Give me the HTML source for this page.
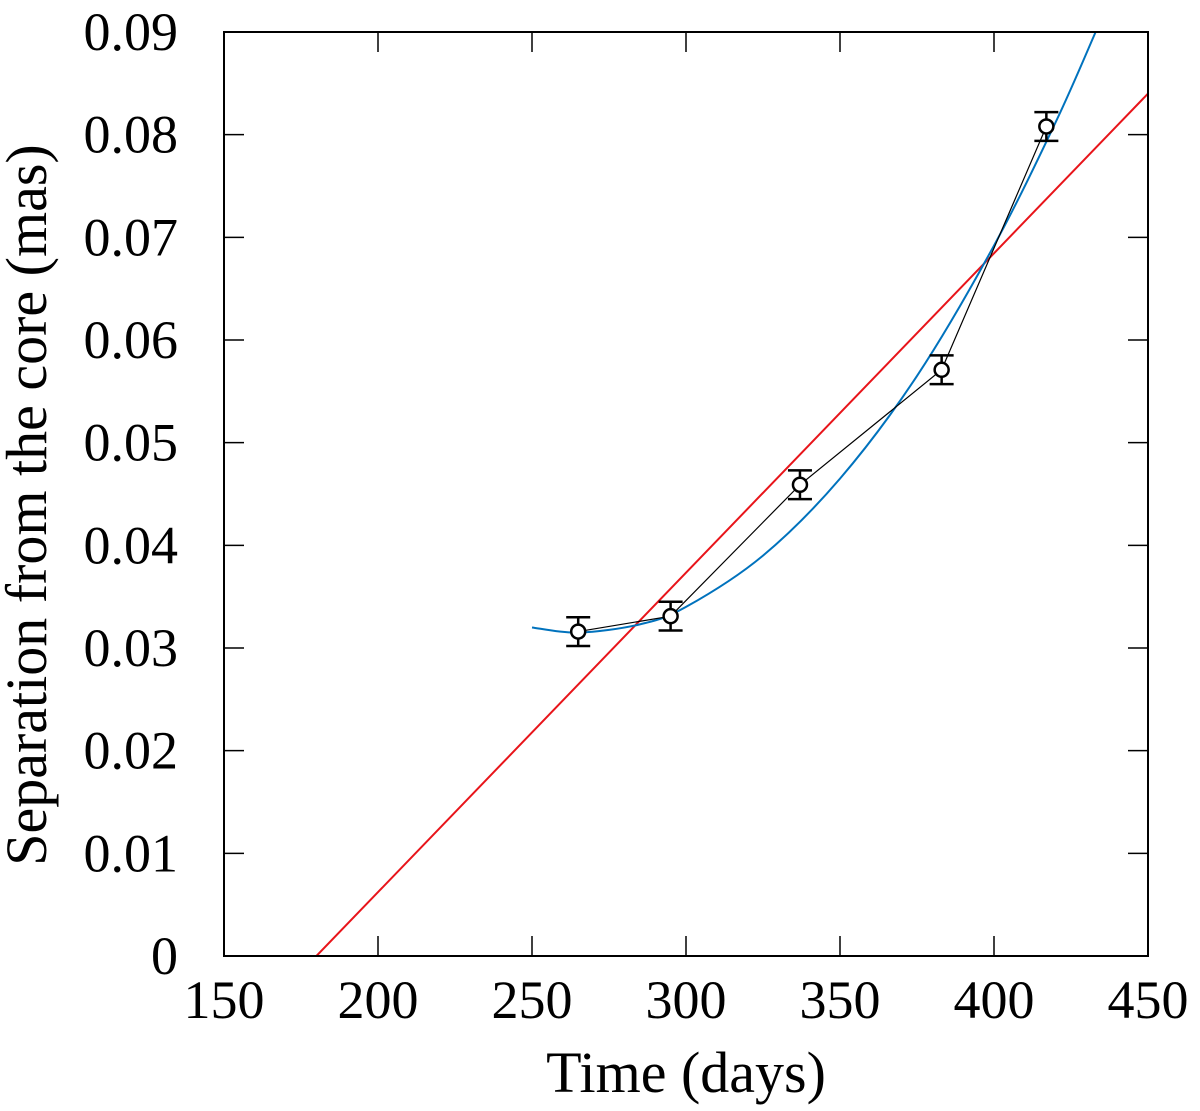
<!DOCTYPE html>
<html><head><meta charset="utf-8"><style>
body{margin:0;background:#fff}
svg text{font-family:"Liberation Serif","DejaVu Serif",serif;fill:#000}
</style></head><body>
<svg id="chart" width="1200" height="1106" viewBox="0 0 1200 1106" xmlns="http://www.w3.org/2000/svg">
<g id="g"></g>
</svg>
<script>
const xTicks=[150,200,250,300,350,400,450];
const yTicks=[0,0.01,0.02,0.03,0.04,0.05,0.06,0.07,0.08,0.09];
const yTickLabels=["0","0.01","0.02","0.03","0.04","0.05","0.06","0.07","0.08","0.09"];
const obsDays=[265,295,337,383,417];
const obsSep=[0.0316,0.0331,0.0459,0.0571,0.0808];
const obsErr=[0.0014,0.0014,0.0014,0.0014,0.0014];
const linDays=[180,450];
const linSep=[0,0.084];
const fitDays=[250,265,285,300,325,350,375,400,420,433];
const fitSep=[0.032,0.0315,0.0323,0.034,0.039,0.0465,0.0565,0.0692,0.0812,0.09];

const L=224,R=1148,T=32,B=956;
const X=v=>L+(v-150)/300*(R-L);
const Y=v=>B-v/0.09*(B-T);
const NS="http://www.w3.org/2000/svg";
const g=document.getElementById('g');
function mk(tag,attrs,name){const e=document.createElementNS(NS,tag);for(const k in attrs)e.setAttribute(k,attrs[k]);


g.appendChild(e);return e;}
const defs=document.createElementNS(NS,'defs');defs.innerHTML=`<clipPath id="cp"><rect x="${L}" y="${T}" width="${R-L}" height="${B-T}"/></clipPath>`;g.appendChild(defs);
xTicks.forEach((v,i)=>{const x=X(v);
mk('line',{x1:x,x2:x,y1:B,y2:B-20,stroke:'#000','stroke-width':1.5},'x-tick');
mk('line',{x1:x,x2:x,y1:T,y2:T+20,stroke:'#000','stroke-width':1.5},'x-tick-top');
const t=mk('text',{x:x,y:1018,'font-size':54,'text-anchor':'middle'},'x-tick-label');t.textContent=v;});
yTicks.forEach((v,i)=>{const y=Y(v);
mk('line',{x1:L,x2:L+20,y1:y,y2:y,stroke:'#000','stroke-width':1.5},'y-tick');
mk('line',{x1:R,x2:R-20,y1:y,y2:y,stroke:'#000','stroke-width':1.5},'y-tick-right');
const t=mk('text',{x:178,y:y+18,'font-size':54,'text-anchor':'end'},'y-tick-label');t.textContent=yTickLabels[i];});
const lp=linDays.map((d,i)=>X(d)+','+Y(linSep[i])).join(' ');
mk('polyline',{points:lp,fill:'none',stroke:'#e8141a','stroke-width':2,'clip-path':'url(#cp)'},'linear-fit-line');
const P=fitDays.map((d,i)=>[X(d),Y(fitSep[i])]);
let dstr='M'+P[0][0]+','+P[0][1];
for(let i=0;i<P.length-1;i++){const p0=P[Math.max(0,i-1)],p1=P[i],p2=P[i+1],p3=P[Math.min(P.length-1,i+2)];
dstr+=` C${p1[0]+(p2[0]-p0[0])/6},${p1[1]+(p2[1]-p0[1])/6} ${p2[0]-(p3[0]-p1[0])/6},${p2[1]-(p3[1]-p1[1])/6} ${p2[0]},${p2[1]}`;}
mk('path',{d:dstr,fill:'none',stroke:'#0072bd','stroke-width':2,'clip-path':'url(#cp)'},'polynomial-fit-curve');
mk('polyline',{points:obsDays.map((d,i)=>X(d)+','+Y(obsSep[i])).join(' '),fill:'none',stroke:'#000','stroke-width':1.2},'data-line');
obsDays.forEach((d,i)=>{const x=X(d),y=Y(obsSep[i]),e1=Y(obsSep[i]+obsErr[i]),e2=Y(obsSep[i]-obsErr[i]);
mk('line',{x1:x,x2:x,y1:e1,y2:e2,stroke:'#000','stroke-width':2.5},'error-bar');
mk('line',{x1:x-12,x2:x+12,y1:e1,y2:e1,stroke:'#000','stroke-width':2.5},'error-cap');
mk('line',{x1:x-12,x2:x+12,y1:e2,y2:e2,stroke:'#000','stroke-width':2.5},'error-cap');
mk('circle',{cx:x,cy:y,r:7,fill:'#fff',stroke:'#000','stroke-width':2.5},'data-point');});
mk('rect',{x:L,y:T,width:R-L,height:B-T,fill:'none',stroke:'#000','stroke-width':2},'plot-frame');
const xt=mk('text',{x:686,y:1092,'font-size':58,'text-anchor':'middle'},'x-axis-title');xt.textContent='Time (days)';
const yt=mk('text',{x:0,y:0,'font-size':58,'text-anchor':'middle',transform:'translate(46,505) rotate(-90)'},'y-axis-title');yt.textContent='Separation from the core (mas)';
</script>
</body></html>
